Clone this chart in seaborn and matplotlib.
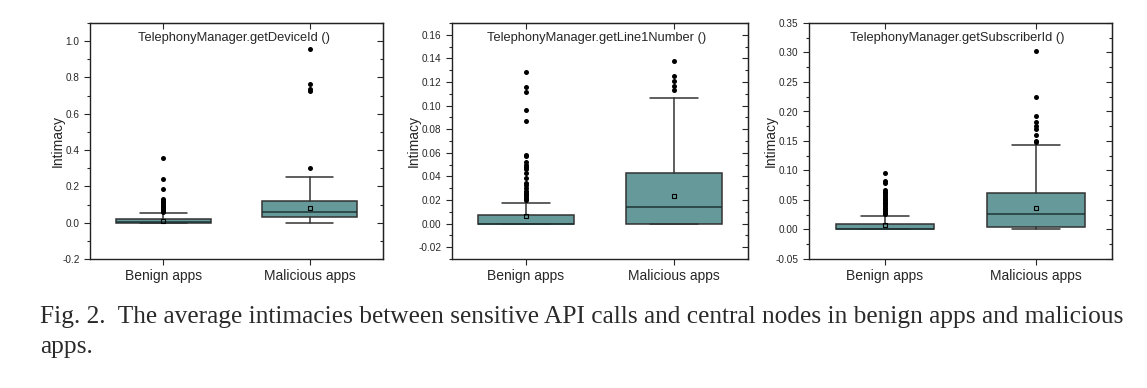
import pandas as pd
import matplotlib
matplotlib.use("Agg")
import matplotlib.pyplot as plt
from matplotlib.ticker import AutoMinorLocator, MultipleLocator
import seaborn as sns

# nhóm ứng dụng
groups = ["Benign apps", "Malicious apps"]
titles = ["TelephonyManager.getDeviceId ()",
          "TelephonyManager.getLine1Number ()",
          "TelephonyManager.getSubscriberId ()"]

# thống kê hộp: [benign, malicious]
q1 = [[0.0, 0.030], [0.0, 0.0], [0.0, 0.005]]
med = [[0.003, 0.058], [0.0, 0.014], [0.0, 0.027]]
q3 = [[0.020, 0.122], [0.0074, 0.043], [0.009, 0.0625]]
whislo = [[0.0, 0.0], [0.0, 0.0], [0.0, 0.0]]
whishi = [[0.052, 0.250], [0.0178, 0.1065], [0.0237, 0.1437]]
means = [[0.012, 0.081], [0.0065, 0.0234], [0.0073, 0.0372]]

# điểm ngoại lai
out_benign = [
    [0.357, 0.240, 0.187, 0.128, 0.122, 0.115, 0.108, 0.100, 0.093, 0.086,
     0.080, 0.075, 0.070, 0.065, 0.060],
    [0.1287, 0.116, 0.1115, 0.0966, 0.0868, 0.058, 0.057, 0.052, 0.050,
     0.048, 0.046, 0.043, 0.039, 0.034, 0.033, 0.030, 0.028, 0.026, 0.025,
     0.023, 0.022, 0.021, 0.020],
    [0.0958, 0.0828, 0.0789, 0.067, 0.064, 0.062, 0.059, 0.055, 0.052,
     0.050, 0.047, 0.045, 0.043, 0.040, 0.037, 0.034, 0.031, 0.028, 0.026],
]
out_malicious = [
    [0.956, 0.766, 0.736, 0.725, 0.304],
    [0.1375, 0.125, 0.121, 0.117, 0.1135],
    [0.3025, 0.2248, 0.192, 0.182, 0.1746, 0.1696, 0.161, 0.150, 0.149],
]

ylims = [(-0.2, 1.1), (-0.03, 0.17), (-0.05, 0.35)]
ysteps = [0.2, 0.02, 0.05]
yfmt = ["{:.1f}", "{:.2f}", "{:.2f}"]

# vị trí các trục (pixel: trái, phải)
ax_px = [(90, 383), (452, 748), (809, 1112)]

sns.set_style("ticks")
plt.rcParams["font.family"] = ["Liberation Sans", "DejaVu Sans"]

W, H = 1147, 388
fig = plt.figure(figsize=(W / 100, H / 100), dpi=100)

box_color = "#669999"
edge = "#333333"

for i in range(3):
    l, r = ax_px[i]
    ax = fig.add_axes([l / W, 1 - 259 / H, (r - l) / W, 236 / H])

    df = pd.DataFrame({
        "group": [groups[0]] * len(out_benign[i]) + [groups[1]] * len(out_malicious[i]),
        "value": out_benign[i] + out_malicious[i],
    })
    sns.stripplot(data=df, x="group", y="value", order=groups, jitter=False,
                  color="black", size=3.6, linewidth=0, ax=ax, zorder=4)

    stats = []
    for j in range(2):
        stats.append(dict(q1=q1[i][j], med=med[i][j], q3=q3[i][j],
                          whislo=whislo[i][j], whishi=whishi[i][j],
                          mean=means[i][j], fliers=[]))
    ax.bxp(stats, positions=[0, 1], widths=0.65, capwidths=0.32,
           patch_artist=True, showmeans=True, showfliers=False,
           manage_ticks=False,
           boxprops=dict(facecolor=box_color, edgecolor=edge, linewidth=1.1),
           medianprops=dict(color="#1e3535", linewidth=1.1),
           whiskerprops=dict(color=edge, linewidth=1.1),
           capprops=dict(color=edge, linewidth=1.1),
           meanprops=dict(marker="s", markersize=2.8, markerfacecolor="none",
                          markeredgecolor="black", markeredgewidth=0.8))

    ax.set_xlim(-0.5, 1.5)
    ax.set_ylim(*ylims[i])
    ax.set_xticks([0, 1])
    ax.set_xticklabels(groups, fontsize=10)
    ax.yaxis.set_major_locator(MultipleLocator(ysteps[i]))
    ax.yaxis.set_minor_locator(AutoMinorLocator(2))
    ticks = ax.get_yticks()
    ticks = [t for t in ticks if ylims[i][0] - 1e-9 <= t <= ylims[i][1] + 1e-9]
    ax.set_yticks(ticks)
    ax.set_yticklabels([yfmt[i].format(t) if abs(t) > 1e-9 else yfmt[i].format(0) for t in ticks],
                       fontsize=7.2)
    ax.set_xlabel("")
    ax.set_ylabel("Intimacy", fontsize=10, labelpad=-1.5)
    ax.tick_params(axis="y", which="major", direction="out", length=4, width=0.8)
    ax.tick_params(axis="y", which="minor", direction="out", length=2.5, width=0.8)
    ax.tick_params(axis="x", direction="out", length=4, width=0.8, pad=3)

    for s in ax.spines.values():
        s.set_visible(True)
        s.set_color("#222222")
        s.set_linewidth(1.0)

    # vạch chia phía phải và phía trên (hướng vào trong)
    sec_y = ax.secondary_yaxis("right")
    sec_y.set_yticks(ticks)
    sec_y.yaxis.set_minor_locator(AutoMinorLocator(2))
    sec_y.tick_params(which="major", direction="in", length=4, width=0.8, labelright=False)
    sec_y.tick_params(which="minor", direction="in", length=2.5, width=0.8)
    sec_y.spines["right"].set_color("#222222")
    sec_x = ax.secondary_xaxis("top")
    sec_x.set_xticks([0, 1])
    sec_x.tick_params(direction="in", length=4, width=0.8, labeltop=False)
    sec_x.spines["top"].set_color("#222222")

    ax.text(0.49, 0.935, titles[i], transform=ax.transAxes, ha="center",
            va="center", fontsize=9.3)

caption1 = ("Fig. 2.  The average intimacies between sensitive API calls and "
            "central nodes in benign apps and malicious")
caption2 = "apps."
fig.text(40 / W, 1 - 323 / H, caption1, fontsize=18.3, va="baseline",
         family=["Liberation Serif", "DejaVu Serif"], color="#2a2a2a")
fig.text(40 / W, 1 - 353 / H, caption2, fontsize=18.3, va="baseline",
         family=["Liberation Serif", "DejaVu Serif"], color="#2a2a2a")

fig.savefig("out.png", dpi=100)
